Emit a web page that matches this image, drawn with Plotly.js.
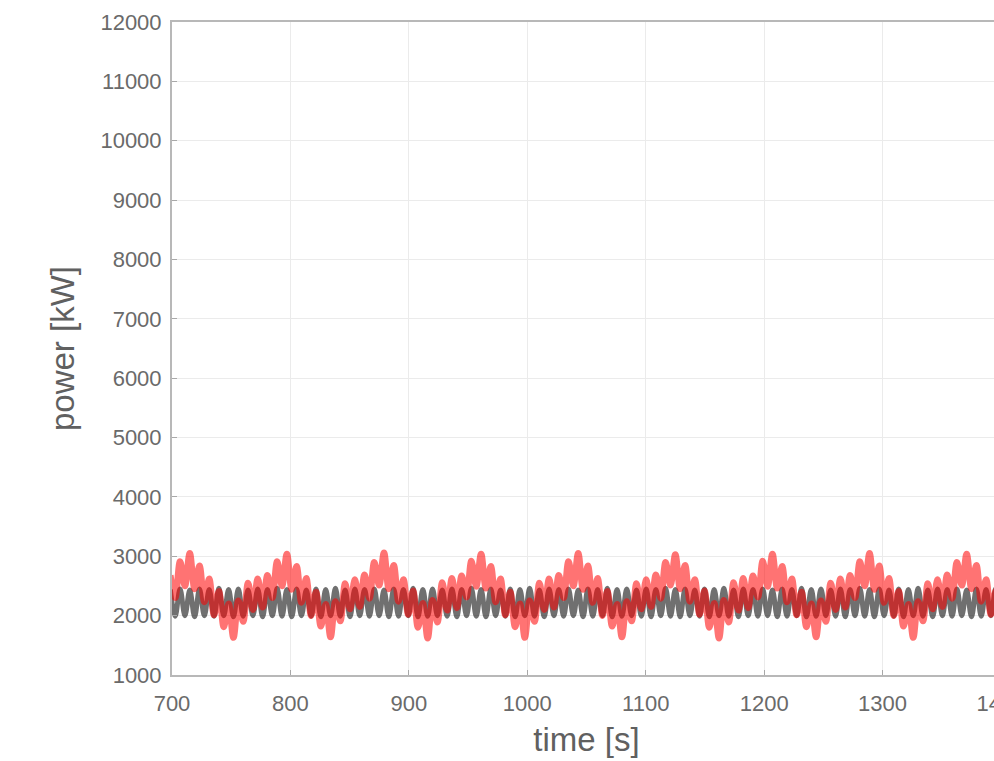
<!DOCTYPE html>
<html>
<head>
<meta charset="utf-8">
<script src="https://cdn.plot.ly/plotly-3.0.1.min.js"></script>
<style>
  html, body { margin: 0; padding: 0; background: #fff; overflow: hidden; }
  #chart { width: 1040px; height: 761px; }
</style>
</head>
<body>
<div id="chart"></div>
<script>
// Sampling of both power signals (s): first sample time and spacing
const TIME_START = 698.6;
const TIME_STEP = 4.1;

// Reference power [kW], sampled at its oscillation extremes
const basePower = [
  2440, 1990, 2450, 2000, 2430, 1980, 2450, 2000, 2440, 1990,
  2460, 2000, 2440, 1980, 2450, 1990, 2430, 2000, 2450, 1980,
  2440, 2000, 2460, 1990, 2440, 1980, 2450, 2000, 2430, 1990,
  2450, 1980, 2440, 2000, 2460, 1990, 2430, 1980, 2450, 2000,
  2440, 1990, 2450, 2000, 2430, 1980, 2450, 1990, 2440, 2000,
  2460, 1980, 2440, 1990, 2450, 2000, 2430, 1990, 2450, 1980,
  2440, 2000, 2460, 1990, 2440, 1980, 2450, 2000, 2430, 1990,
  2450, 1980, 2440, 2000, 2460, 1990, 2430, 1980, 2450, 2000,
  2440, 1990, 2450, 2000, 2430, 1980, 2450, 1990, 2440, 2000,
  2460, 1980, 2440, 1990, 2450, 2000, 2430, 1990, 2450, 1980,
  2440, 2000, 2460, 1990, 2440, 1980, 2450, 2000, 2430, 1990,
  2450, 1980, 2440, 2000, 2460, 1990, 2430, 1980, 2450, 2000,
  2440, 1990, 2450, 2000, 2430, 1980, 2450, 1990, 2440, 2000,
  2460, 1980, 2440, 1990, 2450, 2000, 2430, 1990, 2450, 1980,
  2440, 2000, 2460, 1990, 2440, 1980, 2450, 2000, 2430, 1990,
  2450, 1980, 2440, 2000, 2460, 1990, 2430, 1980, 2450, 2000,
  2440, 1990, 2450, 2000, 2430, 1980, 2450, 1990, 2440, 2000,
  2460, 1980, 2440, 1990, 2450
];

// Controlled power [kW], same sampling; one line per ~82 s swing
const redPower = [
  2680, 2300, 2910, 2500,
  3050, 2450, 2840, 2230, 2620, 2010, 2410, 1810, 2200, 1630, 2250, 1900, 2550, 2100, 2620, 2140, 2680, 2300, 2910, 2500,
  3040, 2440, 2830, 2220, 2630, 2000, 2400, 1820, 2190, 1640, 2240, 1910, 2540, 2110, 2610, 2150, 2690, 2290, 2900, 2510,
  3060, 2450, 2850, 2240, 2610, 2020, 2420, 1800, 2210, 1620, 2260, 1890, 2560, 2090, 2630, 2130, 2670, 2310, 2920, 2490,
  3040, 2460, 2830, 2230, 2620, 2010, 2400, 1810, 2200, 1630, 2250, 1900, 2550, 2100, 2620, 2140, 2680, 2300, 2910, 2500,
  3050, 2440, 2840, 2220, 2630, 2000, 2410, 1820, 2190, 1640, 2240, 1910, 2540, 2110, 2610, 2150, 2690, 2290, 2900, 2510,
  3030, 2450, 2850, 2240, 2610, 2020, 2420, 1800, 2210, 1620, 2260, 1890, 2560, 2090, 2630, 2130, 2670, 2310, 2920, 2490,
  3040, 2460, 2830, 2230, 2620, 2010, 2400, 1810, 2200, 1640, 2250, 1900, 2550, 2100, 2620, 2140, 2680, 2300, 2910, 2500,
  3050, 2440, 2840, 2220, 2630, 2000, 2410, 1820, 2190, 1630, 2240, 1910, 2540, 2110, 2610, 2150, 2690, 2290, 2900, 2510,
  3040, 2450, 2850, 2240, 2610, 2020, 2420, 1800, 2210, 1620, 2260
];

const X_RANGE = [700, 1400];
const Y_RANGE = [1000, 12000];

const FONT = 'Liberation Sans, Arial, Helvetica, sans-serif';

const traces = [
  {
    type: 'scatter', mode: 'lines',
    x0: TIME_START, dx: TIME_STEP, y: basePower,
    line: { color: 'rgba(25,25,25,0.62)', width: 5, shape: 'spline', smoothing: 1 },
    hoverinfo: 'skip', showlegend: false
  },
  {
    type: 'scatter', mode: 'lines',
    x0: TIME_START, dx: TIME_STEP, y: redPower,
    line: { color: 'rgba(255,0,0,0.55)', width: 6.5, shape: 'spline', smoothing: 1 },
    hoverinfo: 'skip', showlegend: false
  }
];

const axisCommon = {
  showgrid: true, gridcolor: '#ebebeb', gridwidth: 1,
  zeroline: false,
  showline: true, linecolor: '#b8b8b8', linewidth: 2, mirror: true,
  ticks: 'inside', ticklen: 5, tickcolor: '#a8a8a8', tickwidth: 1,
  tickformat: 'd',
  tickfont: { family: FONT, size: 22, color: '#6a6a6a' }
};

const layout = {
  width: 1040, height: 761,
  margin: { l: 172, r: 39, t: 22, b: 86 },
  paper_bgcolor: '#ffffff', plot_bgcolor: '#ffffff',
  showlegend: false,
  xaxis: Object.assign({}, axisCommon, {
    range: X_RANGE, tick0: 700, dtick: 100,
    ticklabelstandoff: 8,
    title: { text: 'time [s]', font: { family: FONT, size: 33, color: '#606060' }, standoff: 12 }
  }),
  yaxis: Object.assign({}, axisCommon, {
    range: Y_RANGE, tick0: 1000, dtick: 1000,
    ticklabelstandoff: 4,
    title: { text: 'power [kW]', font: { family: FONT, size: 33, color: '#606060' }, standoff: 16 }
  })
};

Plotly.newPlot('chart', traces, layout, { staticPlot: true, displayModeBar: false });
</script>
</body>
</html>
